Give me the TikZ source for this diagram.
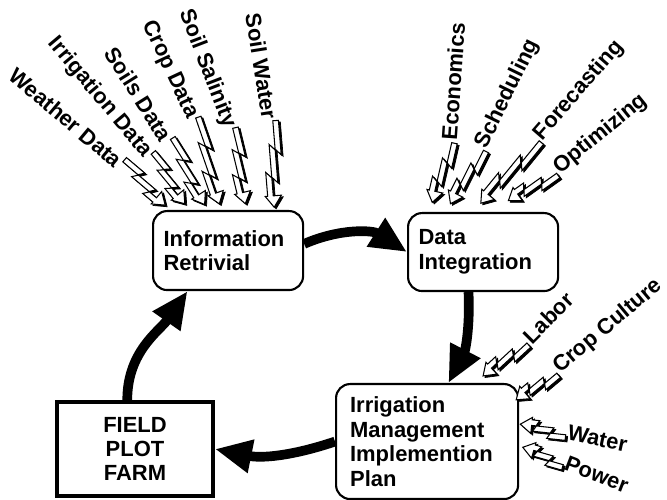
\documentclass[tikz,border=0pt]{standalone}
\usepackage{fontspec}
\setmainfont{Liberation Sans}
\usetikzlibrary{arrows.meta,calc}

\tikzset{
  stage/.style={draw, line width=1.2pt, rounded corners=8pt, anchor=north west,
    align=left, inner xsep=6pt, font=\bfseries\fontsize{12.5}{14}\selectfont},
  site/.style={draw, line width=2.5pt, align=center,
    font=\bfseries\fontsize{12.5}{13.8}\selectfont},
  lbl/.style={inner sep=1pt, font=\bfseries\fontsize{12.5}{14}\selectfont},
  flow/.style={line width=5.5pt, -{Triangle[length=21pt,width=18pt]}},
}

% one lightning arrow, #3 = offset, #4 = look
\newcommand{\boltshape}[4]{%
  \filldraw[#4] ($(#1)!0!(#2)!4.8pt!90:(#2)+(#3)$)
    -- ($(#1)!0.40!(#2)!4.8pt!90:(#2)+(#3)$)
    -- ($(#1)!0.33!(#2)!1.6pt!90:(#2)+(#3)$)
    -- ($(#1)!0.72!(#2)!1.6pt!90:(#2)+(#3)$)
    -- ($(#1)!0.65!(#2)!1.6pt!-90:(#2)+(#3)$)
    -- ($(#2)!6.5pt!(#1)!1.6pt!90:(#1)+(#3)$)
    -- ($(#2)!6.5pt!(#1)!3pt!-90:(#1)+(#3)$)
    -- ($(#2)!1.6pt!90:(#1)+(#3)$)
    -- ($(#2)!6.5pt!(#1)!6.2pt!90:(#1)+(#3)$)
    -- ($(#2)!6.5pt!(#1)!4.8pt!90:(#1)+(#3)$)
    -- ($(#1)!0.59!(#2)!4.8pt!-90:(#2)+(#3)$)
    -- ($(#1)!0.66!(#2)!1.6pt!-90:(#2)+(#3)$)
    -- ($(#1)!0.27!(#2)!1.6pt!-90:(#2)+(#3)$)
    -- ($(#1)!0.34!(#2)!1.6pt!90:(#2)+(#3)$)
    -- ($(#1)!0!(#2)!1.6pt!90:(#2)+(#3)$) -- cycle;}
\newcommand{\bolt}[2]{%
  \boltshape{#1}{#2}{1.1pt,-0.9pt}{black}%
  \boltshape{#1}{#2}{0pt,0pt}{fill=white, line width=0.6pt}}

\begin{document}
\begin{tikzpicture}[x=0.02cm, y=0.02cm]
  \useasboundingbox (0,0) rectangle (667,-500);

  \node[stage, text width=2.58cm, minimum height=1.58cm] (info) at (152,-210) {Information\\Retrivial};
  \node[stage, text width=2.58cm, minimum height=1.56cm] (data) at (407,-212) {Data\\Integration};
  \node[stage, inner xsep=8pt, text width=3.08cm, minimum height=2.3cm] (irr) at (335,-383)
    {Irrigation\\Management\\Implemention\\Plan};
  \node[site, minimum width=3.11cm, minimum height=1.87cm] (field) at (135,-449) {FIELD\\PLOT\\FARM};

  \node[lbl, rotate=-40, anchor=east] (weather) at (121,-164) {Weather Data};
  \node[lbl, rotate=-50, anchor=east] (irrdata) at (149,-156) {Irrigation Data};
  \node[lbl, rotate=-58, anchor=east] (soils) at (168,-141) {Soils Data};
  \node[lbl, rotate=-65, anchor=east] (cropdata) at (193,-119) {Crop Data};
  \node[lbl, rotate=-69, anchor=east] (salinity) at (230,-129) {Soil Salinity};
  \node[lbl, rotate=-81, anchor=east] (soilwater) at (270,-121) {Soil Water};
  \node[lbl, rotate=86, anchor=west] (econ) at (449,-142) {Economics};
  \node[lbl, rotate=64, anchor=west] (sched) at (481,-149) {Scheduling};
  \node[lbl, rotate=49, anchor=west] (forecast) at (537,-139) {Forecasting};
  \node[lbl, rotate=39, anchor=west] (optim) at (555,-171) {Optimizing};
  \node[lbl, rotate=45, anchor=west] (labor) at (525,-341) {Labor};
  \node[lbl, rotate=40, anchor=west] (culture) at (555,-371) {Crop Culture};
  \node[lbl, rotate=-12, anchor=west] (water) at (566,-432) {Water};
  \node[lbl, rotate=-21, anchor=west] (power) at (564,-462) {Power};

  \coordinate (tWeather) at (167,-203);
  \coordinate (tIrrData) at (187,-202);
  \coordinate (tSoils) at (207,-203);
  \coordinate (tCrop) at (222,-203);
  \coordinate (tSalinity) at (248,-203);
  \coordinate (tSoilWater) at (277,-207);
  \coordinate (tEcon) at (435,-203);
  \coordinate (tSched) at (453,-205);
  \coordinate (tForecast) at (483,-205);
  \coordinate (tOptim) at (510,-203);
  \coordinate (tLabor) at (485,-378);
  \coordinate (tCulture) at (518,-402);
  \coordinate (tWater) at (520,-427);
  \coordinate (tPower) at (522,-450);

  \begin{scope}[flow]
    \draw (info.5) to[bend left=28] (data.west);
    \draw (data.250) to[bend left=15] (irr.70);
    \draw (irr.west) to[bend left=15] (field.east);
    \draw (field.99) to[out=90, in=235] (info.225);
  \end{scope}

  \bolt{weather.east}{tWeather}
  \bolt{irrdata.east}{tIrrData}
  \bolt{soils.east}{tSoils}
  \bolt{cropdata.east}{tCrop}
  \bolt{salinity.east}{tSalinity}
  \bolt{soilwater.east}{tSoilWater}
  \bolt{econ.west}{tEcon}
  \bolt{sched.west}{tSched}
  \bolt{forecast.west}{tForecast}
  \bolt{optim.west}{tOptim}
  \bolt{labor.west}{tLabor}
  \bolt{culture.west}{tCulture}
  \bolt{water.west}{tWater}
  \bolt{power.west}{tPower}
\end{tikzpicture}
\end{document}
